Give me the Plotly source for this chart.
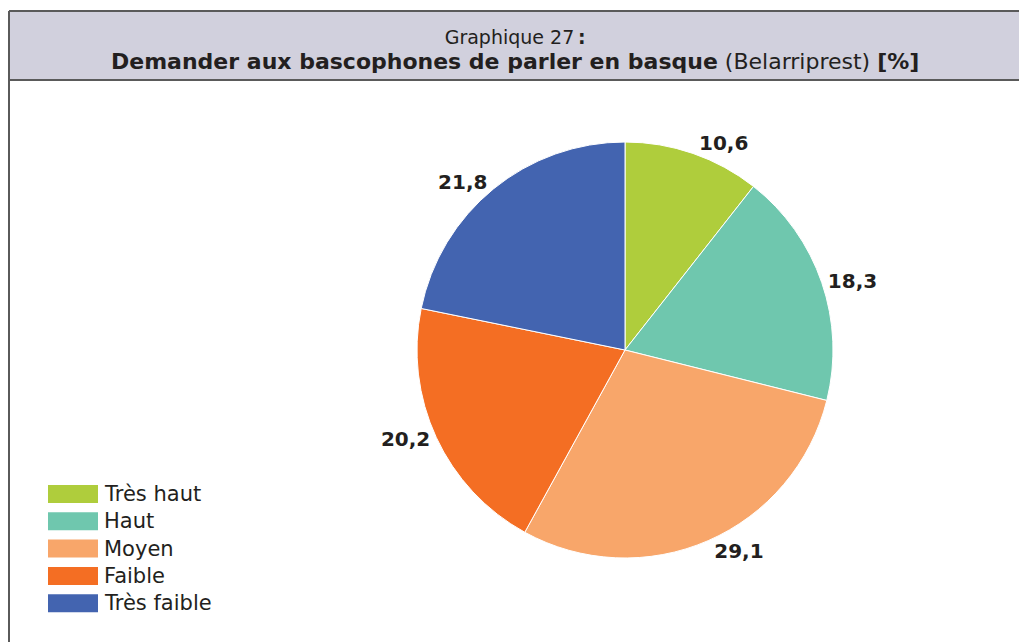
import plotly.graph_objects as go

categories = ["Très haut", "Haut", "Moyen", "Faible", "Très faible"]
values = [10.6, 18.3, 29.1, 20.2, 21.8]
value_labels = ["10,6", "18,3", "29,1", "20,2", "21,8"]
colors = ["#afcd3c", "#6fc7ae", "#f8a66a", "#f46e23", "#4364b0"]

W, H = 1019, 642
FONT = "DejaVu Sans"
TXT = "#231f20"
FRAME = "#5a5a5a"

def px(x):
    return x / W

def py(y):
    return 1 - y / H

cx, cy, r = 625, 350, 208

fig = go.Figure(go.Pie(
    labels=categories,
    values=values,
    text=value_labels,
    textinfo="text",
    textposition="outside",
    textfont=dict(family=FONT, size=20, color=TXT, weight="bold"),
    marker=dict(colors=colors, line=dict(color="#ffffff", width=1)),
    sort=False,
    direction="clockwise",
    rotation=0,
    showlegend=False,
    hoverinfo="label+value",
    domain=dict(x=[px(cx - r), px(cx + r)], y=[py(cy + r), py(cy - r)]),
))

shapes = []
annotations = []
# title box fill
shapes.append(dict(type="rect", xref="paper", yref="paper",
                   x0=px(9), x1=1.02, y0=py(80), y1=py(11),
                   fillcolor="#d1d0dd", line=dict(width=0), layer="below"))
# title box top and bottom lines
for yy in (11, 80):
    shapes.append(dict(type="line", xref="paper", yref="paper",
                       x0=px(9), x1=1.02, y0=py(yy), y1=py(yy),
                       line=dict(color=FRAME, width=2)))
# left frame line
shapes.append(dict(type="line", xref="paper", yref="paper",
                   x0=px(9), x1=px(9), y0=py(11), y1=-0.05,
                   line=dict(color=FRAME, width=2)))

annotations.append(dict(xref="paper", yref="paper", x=px(515), y=py(50),
                        text=("Graphique 27\u2009<b>:</b><br>"
                              "<span style='font-size:22px'><b>Demander aux bascophones de parler en basque</b> "
                              "(Belarriprest) <b>[%]</b></span>"),
                        showarrow=False, font=dict(family=FONT, size=19, color=TXT),
                        align="center", xanchor="center", yanchor="middle"))

# custom legend
y0 = 494
step = 27.3
for i, (cat, col) in enumerate(zip(categories, colors)):
    yc = y0 + i * step
    shapes.append(dict(type="rect", xref="paper", yref="paper",
                       x0=px(48), x1=px(98), y0=py(yc + 9), y1=py(yc - 9),
                       fillcolor=col, line=dict(width=0)))
    annotations.append(dict(xref="paper", yref="paper", x=px(102), y=py(yc),
                            text=cat, showarrow=False,
                            font=dict(family=FONT, size=21, color=TXT),
                            xanchor="left", yanchor="middle"))

fig.update_layout(
    width=W, height=H,
    margin=dict(l=0, r=0, t=0, b=0),
    paper_bgcolor="#ffffff",
    plot_bgcolor="#ffffff",
    shapes=shapes,
    annotations=annotations,
)

fig.write_html(
    "out.html",
    config={"displayModeBar": False},
    post_script="document.body.style.margin='0';document.body.style.overflow='hidden';",
)
